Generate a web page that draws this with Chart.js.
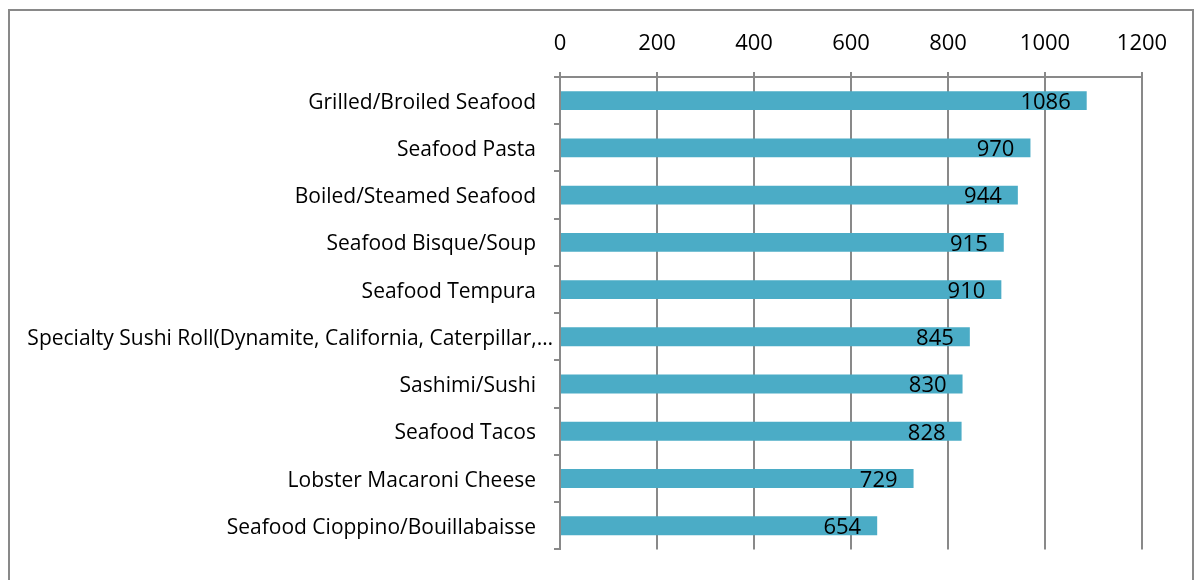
<!DOCTYPE html>
<html lang="en">
<head>
    <meta charset="UTF-8">
    <title>Seafood dishes</title>
    <style>
        html, body {
            margin: 0;
            padding: 0;
            background: #ffffff;
        }
        .wrap {
            position: relative;
            width: 1196px;
            height: 580px;
        }
    </style>
    <script src="https://cdn.jsdelivr.net/npm/chart.js"></script>
</head>
<body>
    <div class="wrap">
        <canvas id="chart" width="1196" height="580"></canvas>
    </div>

    <script>
        const platos = [
            'Grilled/Broiled Seafood',
            'Seafood Pasta',
            'Boiled/Steamed Seafood',
            'Seafood Bisque/Soup',
            'Seafood Tempura',
            'Specialty Sushi Roll(Dynamite, California, Caterpillar,\u2026',
            'Sashimi/Sushi',
            'Seafood Tacos',
            'Lobster Macaroni Cheese',
            'Seafood Cioppino/Bouillabaisse'
        ];
        const valores = [1086, 970, 944, 915, 910, 845, 830, 828, 729, 654];
        const ticksX = [0, 200, 400, 600, 800, 1000, 1200];

        const fuente = "'Open Sans', sans-serif";
        const gris = '#898989';

        // marco gris alrededor de todo
        const marco = {
            id: 'marco',
            beforeDraw(chart) {
                const c = chart.ctx;
                c.save();
                c.strokeStyle = gris;
                c.lineWidth = 2;
                c.strokeRect(9, 10, 1184, 620);
                c.restore();
            }
        };

        // ajuste fino de las etiquetas del eje y
        // (la recortada con … llega más cerca del eje, como en Excel)
        const recortada = {
            id: 'recortada',
            beforeDraw(chart) {
                const items = chart.scales.y.getLabelItems();
                items.forEach(it => {
                    if (it._movida) return;
                    it.options.translation[1] += 2;
                    if (String(it.label).endsWith('\u2026')) {
                        it.options.translation[0] += 17;
                    }
                    it._movida = true;
                });
            }
        };

        // etiquetas de valor dentro del final de cada barra
        const etiquetas = {
            id: 'etiquetas',
            afterDatasetsDraw(chart) {
                const c = chart.ctx;
                const meta = chart.getDatasetMeta(0);
                c.save();
                c.font = '22px ' + fuente;
                c.fillStyle = '#000000';
                c.textAlign = 'right';
                c.textBaseline = 'middle';
                meta.data.forEach((bar, i) => {
                    c.fillText(String(valores[i]), bar.x - 16, bar.y + 2);
                });
                c.restore();
            }
        };

        new Chart(document.getElementById('chart'), {
            type: 'bar',
            data: {
                labels: platos,
                datasets: [{
                    data: valores,
                    backgroundColor: '#4bacc6',
                    borderWidth: 0,
                    categoryPercentage: 1,
                    barPercentage: 0.4
                }]
            },
            options: {
                indexAxis: 'y',
                responsive: false,
                animation: false,
                layout: {
                    padding: { top: 0, right: 54, bottom: 24, left: 0 }
                },
                plugins: {
                    legend: { display: false },
                    tooltip: { enabled: false }
                },
                scales: {
                    x: {
                        position: 'top',
                        min: 0,
                        max: 1200,
                        afterBuildTicks(axis) {
                            axis.ticks = ticksX.map(v => ({ value: v }));
                        },
                        afterFit(axis) {
                            axis.height = 77;
                        },
                        ticks: {
                            color: '#000000',
                            font: { family: fuente, size: 22 },
                            padding: 15,
                            maxRotation: 0,
                            callback: v => String(v)
                        },
                        grid: {
                            color: gris,
                            lineWidth: 2,
                            tickLength: 5
                        },
                        border: { color: gris, width: 2 }
                    },
                    y: {
                        afterFit(axis) {
                            axis.width = 560;
                        },
                        ticks: {
                            color: '#000000',
                            font: { family: fuente, size: 21 },
                            padding: 18,
                            autoSkip: false
                        },
                        grid: {
                            drawOnChartArea: false,
                            color: gris,
                            lineWidth: 2,
                            tickLength: 6,
                            offset: true
                        },
                        border: { color: gris, width: 2 }
                    }
                }
            },
            plugins: [marco, recortada, etiquetas]
        });
    </script>
</body>
</html>
